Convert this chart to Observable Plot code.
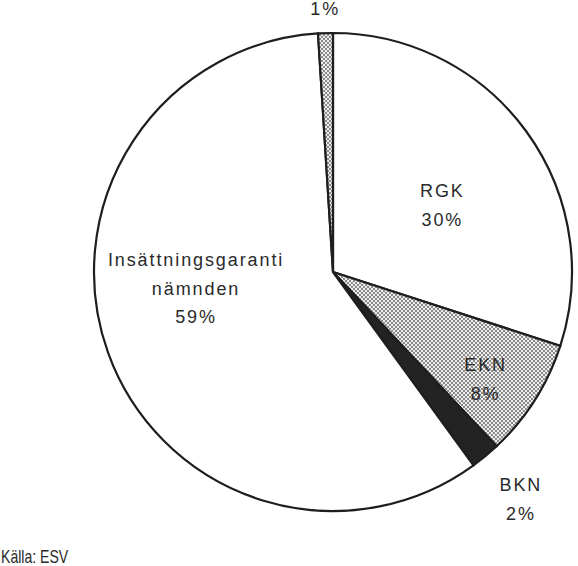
<!DOCTYPE html>
<html><head><meta charset="utf-8">
<script src="https://cdn.jsdelivr.net/npm/d3@7"></script>
<script src="https://cdn.jsdelivr.net/npm/@observablehq/plot@0.6"></script>
<style>
body{margin:0;background:#fff;}
#wrap{position:relative;width:578px;height:566px;overflow:hidden;}
#cap{font-family:"Liberation Sans",Arial,sans-serif;font-size:19px;color:#2a2a2a;position:absolute;left:1px;top:548px;line-height:17px;transform:scaleX(0.74);transform-origin:left top;white-space:nowrap;}
#chart svg text{font-family:"Liberation Sans",Arial,sans-serif !important;letter-spacing:1.9px;}
</style>
</head><body><div id="wrap"><div id="chart"></div><div id="cap">Källa: ESV</div></div>
<script>
// Data
const categories = ["RGK", "EKN", "BKN", "Insättningsgaranti\nnämnden", "Övrigt"];
const shares = [30, 8, 2, 59, 1];
const labelTexts = ["RGK\n30%", "EKN\n8%", "BKN\n2%", "Insättningsgaranti\nnämnden\n59%", "1%"];

// Styling / layout
const fills = ["white", "url(#dots)", "#232323", "white", "url(#dots)"];
const labelRadius = [0.536, 0.777, 1.23, 0.579, 1.105];
const labelAngleShift = [4.2, 2.6, 0, 13.2, 0];

const arcs = d3.pie().sort(null).value(d => d)(shares);
const labelData = arcs.map((a, i) => {
  const ang = (a.startAngle + a.endAngle) / 2 + labelAngleShift[i] * Math.PI / 180;
  return {x: labelRadius[i] * Math.sin(ang), y: labelRadius[i] * Math.cos(ang), text: labelTexts[i], cat: categories[i]};
});

function pieMark(index, scales, values, dims) {
  let cx, cy, R;
  if (scales && scales.x && scales.y) {
    cx = scales.x(0); cy = scales.y(0); R = scales.x(1) - scales.x(0);
  } else {
    cx = dims.marginLeft + (dims.width - dims.marginLeft - dims.marginRight) / 2;
    cy = dims.marginTop + (dims.height - dims.marginTop - dims.marginBottom) / 2;
    R = (dims.width - dims.marginLeft - dims.marginRight) / 2;
  }
  const g = d3.create("svg:g");
  const defs = g.append("defs");
  const p = defs.append("pattern").attr("id", "dots").attr("patternUnits", "userSpaceOnUse").attr("width", 4).attr("height", 4);
  p.append("rect").attr("width", 4).attr("height", 4).attr("fill", "#eeeeee");
  p.append("rect").attr("x", 0).attr("y", 0).attr("width", 2).attr("height", 2).attr("fill", "#8a8a8a");
  p.append("rect").attr("x", 2).attr("y", 2).attr("width", 2).attr("height", 2).attr("fill", "#8a8a8a");
  g.selectAll("path").data(arcs).join("path")
    .attr("transform", `translate(${cx},${cy})`)
    .attr("d", d3.arc().innerRadius(0).outerRadius(R))
    .attr("fill", (d, i) => fills[i])
    .attr("stroke", "#1e1e1e")
    .attr("stroke-width", 2.2)
    .attr("stroke-linejoin", "miter");
  return g.node();
}

const chart = Plot.plot({
  width: 578,
  height: 540,
  marginLeft: 94,
  marginRight: 6,
  marginTop: 33,
  marginBottom: 29,
  x: {domain: [-1, 1], axis: null},
  y: {domain: [-1, 1], axis: null},
  style: {fontFamily: "'Liberation Sans', Arial, sans-serif", background: "white"},
  marks: [
    pieMark,
    Plot.text(labelData, {x: "x", y: "y", text: "text", fontSize: 18, lineHeight: 1.6, dy: -3, fill: "#2a2a2a"})
  ]
});
document.getElementById("chart").appendChild(chart);
</script>
</body></html>
